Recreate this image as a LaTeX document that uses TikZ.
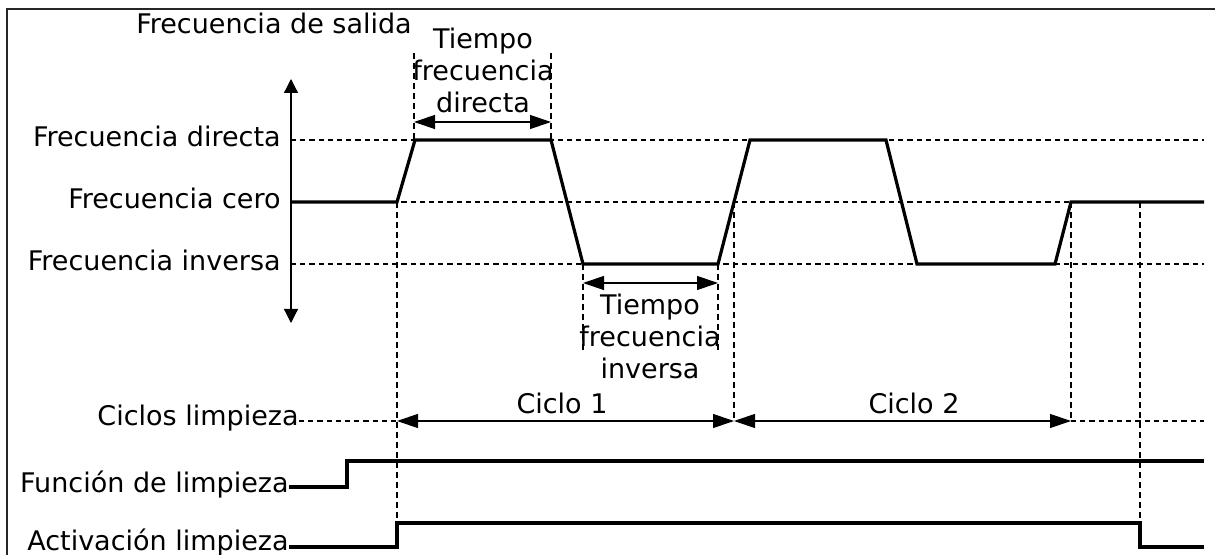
\documentclass[tikz,border=0pt]{standalone}
\usepackage{fontspec}
\setmainfont{DejaVu Sans}
\usetikzlibrary{arrows.meta}
\begin{document}
\begin{tikzpicture}[x=0.5pt,y=-0.5pt,
  txt/.style={font=\fontsize{13.5}{16}\selectfont, inner sep=0pt},
  lbl/.style={txt, anchor=base east},
  sig/.style={line width=1.6pt, line join=miter},
  grid/.style={line width=0.55pt, dash pattern=on 2.6pt off 2pt},
  vgrid/.style={line width=0.55pt, dash pattern=on 3pt off 2pt},
  dim/.style={line width=0.6pt, {Triangle[length=10.5pt,width=7pt]}-{Triangle[length=10.5pt,width=7pt]}},
  axis/.style={line width=0.6pt, {Triangle[length=7pt,width=7pt]}-{Triangle[length=7pt,width=7pt]}}]
\useasboundingbox (0,0) rectangle (1215,555);
% frame
\draw[line width=0.8pt, black!85] (7,560) -- (7,9) -- (1220,9);
% title and level labels
\node[txt, anchor=base] (title) at (274,34) {Frecuencia de salida};
\node[lbl] (ld) at (281,147) {Frecuencia directa};
\node[lbl] (lz) at (281,209) {Frecuencia cero};
\node[lbl] (li) at (281,271) {Frecuencia inversa};
\node[lbl] (lc) at (299,426) {Ciclos limpieza};
\node[lbl] (lf) at (289,492) {Función de limpieza};
\node[lbl] (la) at (289,550) {Activación limpieza};
% named points
\coordinate (ax) at (291,79);
\coordinate (axb) at (291,323);
\coordinate (d0) at (291,140); \coordinate (d1) at (1204,140);
\coordinate (z0) at (291,202); \coordinate (z1) at (1204,202);
\coordinate (i0) at (291,264); \coordinate (i1) at (1204,264);
% grid lines
\draw[grid] (d0) -- (d1);
\draw[grid] (z0) -- (z1);
\draw[grid] (i0) -- (i1);
% axis
\draw[axis] (ax) -- (axb);
% waveform
\coordinate (w1) at (397,202);
\coordinate (w2) at (415,140);
\coordinate (w3) at (551,140);
\coordinate (w4) at (583,264);
\coordinate (w5) at (718,264);
\coordinate (w6) at (750,140);
\coordinate (w7) at (886,140);
\coordinate (w8) at (917,264);
\coordinate (w9) at (1055,264);
\coordinate (w10) at (1071,202);
\draw[sig] (z0) -- (w1) -- (w2) -- (w3) -- (w4) -- (w5) -- (w6) -- (w7) -- (w8) -- (w9) -- (w10) -- (z1);
% tiempo frecuencia directa
\coordinate (td1) at (414,53); \coordinate (td2) at (551,53);
\coordinate (td1b) at (414,140); \coordinate (td2b) at (551,140);
\draw[vgrid] (td1) -- (td1b);
\draw[vgrid] (td2) -- (td2b);
\coordinate (tda) at (414,122); \coordinate (tdb) at (551,122);
\draw[dim] (tda) -- (tdb);
\node[txt, anchor=base] (ttd) at (483,49) {\begin{tabular}[t]{@{}c@{}}Tiempo\\frecuencia\\directa\end{tabular}};
% tiempo frecuencia inversa
\coordinate (ti1) at (583,350); \coordinate (ti2) at (718,350);
\draw[vgrid] (w4) -- (ti1);
\draw[vgrid] (w5) -- (ti2);
\coordinate (tia) at (583,283); \coordinate (tib) at (718,283);
\draw[dim] (tia) -- (tib);
\node[txt, anchor=base] (tti) at (650,315) {\begin{tabular}[t]{@{}c@{}}Tiempo\\frecuencia\\inversa\end{tabular}};
% vertical markers
\coordinate (m1t) at (397,202); \coordinate (m1b) at (397,523);
\coordinate (m2t) at (734,202); \coordinate (m2b) at (734,421);
\coordinate (m3t) at (1071,202); \coordinate (m3b) at (1071,421);
\coordinate (m4t) at (1140,202); \coordinate (m4b) at (1140,523);
\draw[vgrid] (m1t) -- (m1b);
\draw[vgrid] (m2t) -- (m2b);
\draw[vgrid] (m3t) -- (m3b);
\draw[vgrid] (m4t) -- (m4b);
% cycles
\coordinate (c0) at (299,421);
\coordinate (c1) at (397,421);
\coordinate (c2) at (734,421);
\coordinate (c3) at (1071,421);
\coordinate (c4) at (1204,421);
\draw[grid] (c0) -- (c1);
\draw[dim] (c1) -- (c2);
\draw[dim] (c2) -- (c3);
\draw[grid] (c3) -- (c4);
\node[txt, anchor=base] (cy1) at (562,414) {Ciclo 1};
\node[txt, anchor=base] (cy2) at (914,414) {Ciclo 2};
% funcion de limpieza
\coordinate (f0) at (289,487);
\coordinate (f1) at (347,487);
\coordinate (f2) at (347,461);
\coordinate (f3) at (1204,461);
\draw[sig] (f0) -- (f1) -- (f2) -- (f3);
% activacion limpieza
\coordinate (a0) at (289,547);
\coordinate (a1) at (397,547);
\coordinate (a2) at (397,523);
\coordinate (a3) at (1140,523);
\coordinate (a4) at (1140,547);
\coordinate (a5) at (1204,547);
\draw[sig] (a0) -- (a1) -- (a2) -- (a3) -- (a4) -- (a5);
\end{tikzpicture}
\end{document}
